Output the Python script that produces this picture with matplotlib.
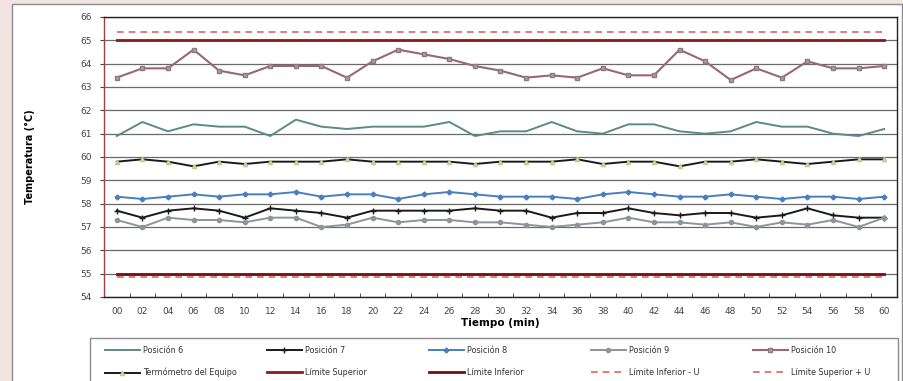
import numpy as np
import matplotlib
matplotlib.use('Agg')
import matplotlib.pyplot as plt
from matplotlib.patches import Rectangle

tiempo = ['%02d' % t for t in range(0, 61, 2)]

pos6 = [60.9, 61.5, 61.1, 61.4, 61.3, 61.3, 60.9, 61.6, 61.3, 61.2, 61.3,
        61.3, 61.3, 61.5, 60.9, 61.1, 61.1, 61.5, 61.1, 61.0, 61.4,
        61.4, 61.1, 61.0, 61.1, 61.5, 61.3, 61.3, 61.0, 60.9, 61.2]
pos7 = [57.7, 57.4, 57.7, 57.8, 57.7, 57.4, 57.8, 57.7, 57.6, 57.4, 57.7,
        57.7, 57.7, 57.7, 57.8, 57.7, 57.7, 57.4, 57.6, 57.6, 57.8,
        57.6, 57.5, 57.6, 57.6, 57.4, 57.5, 57.8, 57.5, 57.4, 57.4]
pos8 = [58.3, 58.2, 58.3, 58.4, 58.3, 58.4, 58.4, 58.5, 58.3, 58.4, 58.4,
        58.2, 58.4, 58.5, 58.4, 58.3, 58.3, 58.3, 58.2, 58.4, 58.5,
        58.4, 58.3, 58.3, 58.4, 58.3, 58.2, 58.3, 58.3, 58.2, 58.3]
pos9 = [57.3, 57.0, 57.4, 57.3, 57.3, 57.2, 57.4, 57.4, 57.0, 57.1, 57.4,
        57.2, 57.3, 57.3, 57.2, 57.2, 57.1, 57.0, 57.1, 57.2, 57.4,
        57.2, 57.2, 57.1, 57.2, 57.0, 57.2, 57.1, 57.3, 57.0, 57.4]
pos10 = [63.4, 63.8, 63.8, 64.6, 63.7, 63.5, 63.9, 63.9, 63.9, 63.4, 64.1,
         64.6, 64.4, 64.2, 63.9, 63.7, 63.4, 63.5, 63.4, 63.8, 63.5,
         63.5, 64.6, 64.1, 63.3, 63.8, 63.4, 64.1, 63.8, 63.8, 63.9]
termometro = [59.8, 59.9, 59.8, 59.6, 59.8, 59.7, 59.8, 59.8, 59.8, 59.9, 59.8,
              59.8, 59.8, 59.8, 59.7, 59.8, 59.8, 59.8, 59.9, 59.7, 59.8,
              59.8, 59.6, 59.8, 59.8, 59.9, 59.8, 59.7, 59.8, 59.9, 59.9]
lim_sup = 65.0
lim_inf = 55.0
lim_sup_u = 65.35
lim_inf_u = 54.85

x = np.arange(len(tiempo))

fig = plt.figure(figsize=(9.04, 3.81), dpi=100, facecolor='#f3e4e4')
# white chart area with grey border (behind everything)
fig.patches.append(Rectangle((12/904, -0.05), 890/904, 1.05 - 4/381,
                             transform=fig.transFigure, facecolor='white',
                             edgecolor='#8c8c8c', linewidth=1, zorder=-10))

ax = fig.add_axes([104/904, 1 - 297/381, 793/904, 280/381])
ax.set_facecolor('white')

for yy in range(54, 67):
    ax.axhline(yy, color='#6a6a6a', lw=0.9, zorder=1)

h = {}
h['p6'], = ax.plot(x, pos6, color='#5b8c84', lw=1.4, zorder=3, label='Posición 6')
h['p7'], = ax.plot(x, pos7, color='#1a1a1a', lw=1.4, marker='+', ms=4, zorder=3, label='Posición 7')
h['p8'], = ax.plot(x, pos8, color='#4a7ebf', lw=1.4, marker='D', ms=2.5, zorder=3, label='Posición 8')
h['p9'], = ax.plot(x, pos9, color='#8c949c', lw=1.4, marker='o', ms=3, zorder=3, label='Posición 9')
h['p10'], = ax.plot(x, pos10, color='#9a6674', lw=1.5, marker='s', ms=3,
                    mfc='#a8a0a4', mec='#8a7a80', zorder=3, label='Posición 10')
h['term'], = ax.plot(x, termometro, color='#1a1a1a', lw=1.4, marker='^', ms=3,
                     mfc='#d6d6a0', mec='#c8c890', zorder=3, label='Termómetro del Equipo')
h['ls'], = ax.plot([x[0], x[-1]], [lim_sup, lim_sup], color='#8b1a1a', lw=2, zorder=2, label='Límite Superior')
h['li'], = ax.plot([x[0], x[-1]], [lim_inf, lim_inf], color='#6e1010', lw=2, zorder=2, label='Límite Inferior')
h['liu'], = ax.plot([x[0], x[-1]], [lim_inf_u, lim_inf_u], color='#e06464', lw=1.2,
                    ls=(0, (4, 3)), zorder=2, label='Límite Inferior - U')
h['lsu'], = ax.plot([x[0], x[-1]], [lim_sup_u, lim_sup_u], color='#e06464', lw=1.2,
                    ls=(0, (4, 3)), zorder=2, label='Límite Superior + U')

ax.set_xlim(-0.5, len(tiempo) - 0.5)
ax.set_ylim(54, 66)
ax.set_yticks(range(54, 67))
ax.set_xticks(x)
ax.set_xticklabels(tiempo)
ax.set_xticks(np.arange(-0.5, len(tiempo)), minor=True)
ax.tick_params(axis='x', which='major', length=0, labelsize=6.5, colors='#444444', pad=7)
ax.tick_params(axis='x', which='minor', length=3, direction='in', color='#333333')
ax.tick_params(axis='y', length=3, labelsize=6.5, colors='#444444', pad=6)

for s in ['top', 'right', 'bottom']:
    ax.spines[s].set_color('#222222')
    ax.spines[s].set_linewidth(1)
ax.spines['left'].set_color('#a04040')
ax.spines['left'].set_linewidth(1)

ax.set_xlabel('Tiempo (min)', fontsize=7.5, fontweight='bold', labelpad=2)
fig.text(30/904, 1 - 157/381, 'Temperatura (°C)', rotation=90, fontsize=7,
         fontweight='bold', ha='center', va='center')

# legend box and five evenly spaced columns
fig.patches.append(Rectangle((90/904, -0.05), 808/904, 0.05 + 1 - 338/381,
                             transform=fig.transFigure, facecolor='white',
                             edgecolor='#8c8c8c', linewidth=1, zorder=-5))
cols = [['p6', 'term'], ['p7', 'ls'], ['p8', 'li'], ['p9', 'liu'], ['p10', 'lsu']]
for i, col in enumerate(cols):
    leg = fig.legend([h[k] for k in col], [h[k].get_label() for k in col],
                     loc='upper left', bbox_to_anchor=((105 + 162*i)/904, 1 - 346/381),
                     fontsize=5.8, handlelength=4.3, handletextpad=0.4,
                     labelspacing=1.6, borderaxespad=0, borderpad=0, frameon=False)
    for t in leg.get_texts():
        t.set_color('#333333')

fig.savefig('out.png', dpi=100, facecolor=fig.get_facecolor())
